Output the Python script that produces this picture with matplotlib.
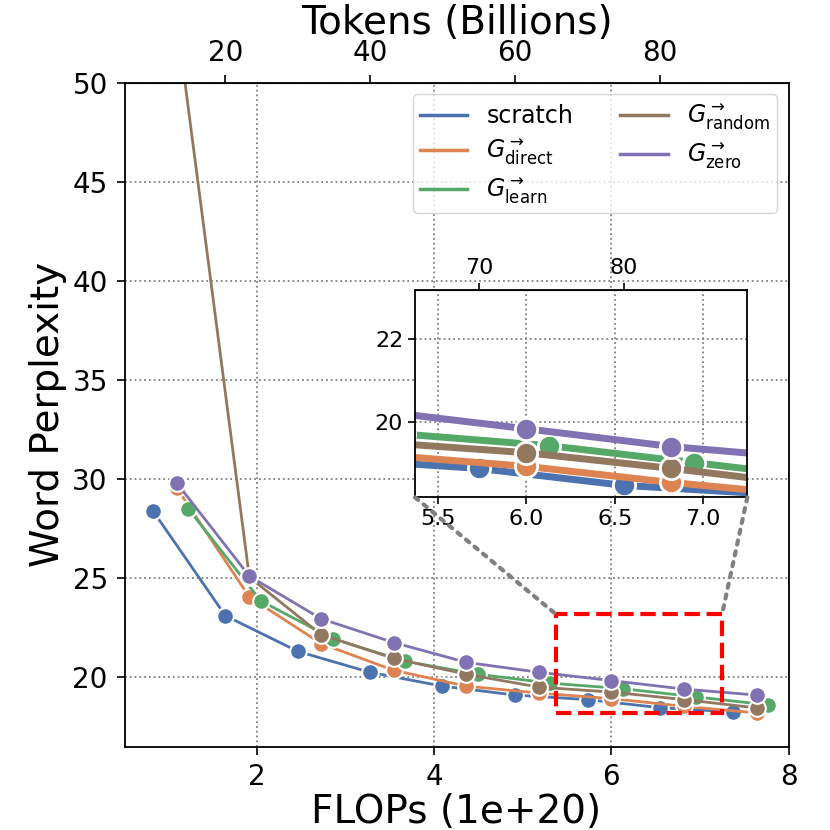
import matplotlib
matplotlib.use('Agg')
import matplotlib.pyplot as plt
from matplotlib.lines import Line2D
from matplotlib.patches import Rectangle, ConnectionPatch

# FLOPs (1e+20) and word perplexity
scratch_x = [0.82, 1.64, 2.46, 3.27, 4.09, 4.91, 5.73, 6.55, 7.37]
scratch_y = [28.4, 23.1, 21.3, 20.25, 19.55, 19.1, 18.87, 18.46, 18.25]

grown_x = [1.09, 1.91, 2.72, 3.54, 4.36, 5.18, 6.00, 6.82, 7.64]
direct_y = [29.55, 24.05, 21.7, 20.35, 19.55, 19.2, 18.92, 18.53, 18.2]
random_y = [53.2, 25.05, 22.15, 20.95, 20.15, 19.5, 19.25, 18.87, 18.45]
zero_y = [29.8, 25.1, 22.95, 21.75, 20.75, 20.25, 19.83, 19.4, 19.1]

learn_x = [1.22, 2.04, 2.85, 3.67, 4.49, 5.31, 6.13, 6.95, 7.77]
learn_y = [28.5, 23.85, 21.95, 20.8, 20.15, 19.7, 19.42, 19.01, 18.6]

labels = ['scratch', r'$G^{\rightarrow}_{\mathrm{direct}}$', r'$G^{\rightarrow}_{\mathrm{learn}}$',
          r'$G^{\rightarrow}_{\mathrm{random}}$', r'$G^{\rightarrow}_{\mathrm{zero}}$']
colors = ['#4C72B0', '#DD8452', '#55A868', '#937860', '#8172B3']
series = [(scratch_x, scratch_y), (grown_x, direct_y), (learn_x, learn_y),
          (grown_x, random_y), (grown_x, zero_y)]

flops_per_btok = 0.0819  # 1e20 FLOPs per billion tokens
zoom_x = (5.37, 7.25)
zoom_y = (18.17, 23.19)

fig = plt.figure(figsize=(8.3, 8.3), dpi=100)
ax = fig.add_axes([0.15, 0.1005, 0.8, 0.8])

for (x, y), c in zip(series, colors):
    ax.plot(x, y, color=c, lw=2, marker='o', ms=12, mec='white', mew=1.5)

ax.set_xlim(0.5, 8)
ax.set_ylim(16.5, 50)
ax.set_xticks([2, 4, 6, 8])
ax.set_yticks([20, 25, 30, 35, 40, 45, 50])
ax.tick_params(labelsize=20, width=1.2, length=6, pad=6)
for s in ax.spines.values():
    s.set_linewidth(1.3)
ax.grid(True, ls=':', color='gray', lw=1.3)
ax.set_xlabel('FLOPs (1e+20)', fontsize=28, labelpad=1)
ax.set_ylabel('Word Perplexity', fontsize=28)

top = ax.secondary_xaxis('top', functions=(lambda f: f / flops_per_btok,
                                           lambda t: t * flops_per_btok))
top.set_xticks([20, 40, 60, 80])
top.tick_params(labelsize=20, width=1.2, length=6, pad=5)
top.set_xlabel('Tokens (Billions)', fontsize=28, labelpad=4)

handles = [Line2D([], [], color=c, lw=2.5) for c in colors]
ax.legend(handles, labels, ncol=2, loc='upper right', fontsize=17,
          borderpad=0.3, labelspacing=0.35)

# zoom box + inset
ax.add_patch(Rectangle((zoom_x[0], zoom_y[0]), zoom_x[1] - zoom_x[0], zoom_y[1] - zoom_y[0],
                       fill=False, ec='red', ls='--', lw=3, zorder=5))

ins = fig.add_axes([0.5, 0.4008, 0.4004, 0.2498])
for (x, y), c in zip(series, colors):
    ins.plot(x, y, color=c, lw=5, marker='o', ms=16, mec='white', mew=2)
ins.set_xlim(*zoom_x)
ins.set_ylim(*zoom_y)
ins.set_xticks([5.5, 6.0, 6.5, 7.0])
ins.set_yticks([20, 22])
ins.tick_params(labelsize=16, width=1.2, length=5)
for s in ins.spines.values():
    s.set_linewidth(1.3)
ins.grid(True, ls=':', color='gray', lw=1.3)
itop = ins.secondary_xaxis('top', functions=(lambda f: f / flops_per_btok,
                                             lambda t: t * flops_per_btok))
itop.set_xticks([70, 80])
itop.tick_params(labelsize=16, width=1.2, length=5)

for ix, bx in [(0, zoom_x[0]), (1, zoom_x[1])]:
    con = ConnectionPatch(xyA=(ix, 0), coordsA=ins.transAxes,
                          xyB=(bx, zoom_y[1]), coordsB=ax.transData,
                          color='gray', ls=':', lw=3)
    fig.add_artist(con)

fig.savefig('out.png', dpi=100)
